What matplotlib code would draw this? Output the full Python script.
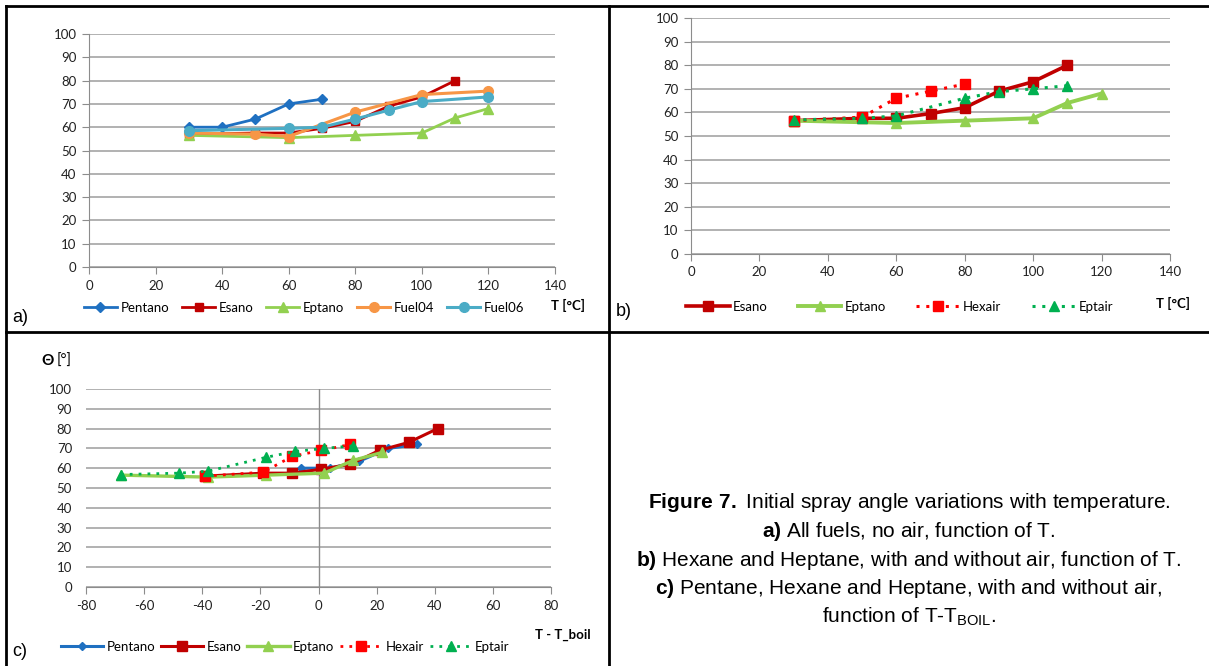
import numpy as np
import matplotlib
matplotlib.use("Agg")
from matplotlib import pyplot as plt
from matplotlib.lines import Line2D

plt.rcParams['font.family'] = ['Lato', 'DejaVu Sans']
plt.rcParams['axes.unicode_minus'] = False
plt.rcParams['mathtext.fontset'] = 'custom'
plt.rcParams['mathtext.rm'] = 'Liberation Sans'
plt.rcParams['mathtext.bf'] = 'Liberation Sans:bold'

# ---- data ----
# a) all fuels, no air, function of T
a_T_pentano = [30, 40, 50, 60, 70]
a_pentano = [60, 60, 63.5, 70, 72]
a_T_esano = [30, 50, 60, 70, 80, 90, 100, 110]
a_esano = [57, 57.5, 57.5, 59.5, 62.5, 69, 73, 80]
a_T_eptano = [30, 60, 80, 100, 110, 120]
a_eptano = [56.5, 55.5, 56.5, 57.5, 64, 68]
a_T_fuel04 = [30, 50, 60, 80, 100, 120]
a_fuel04 = [57.5, 57, 56, 66.5, 74, 75.5]
a_T_fuel06 = [30, 60, 70, 80, 90, 100, 120]
a_fuel06 = [58.5, 59.5, 60, 63.5, 67.3, 71, 73]

# b) hexane and heptane, with and without air
b_T_esano = [30, 50, 60, 70, 80, 90, 100, 110]
b_esano = [56.5, 57.5, 57.5, 59.5, 62, 69, 73, 80]
b_T_eptano = [30, 60, 80, 100, 110, 120]
b_eptano = [56.5, 55.5, 56.5, 57.5, 64, 68]
b_T_hexair = [30, 50, 60, 70, 80]
b_hexair = [56.5, 58, 66, 69, 72]
b_T_eptair = [30, 50, 60, 80, 90, 100, 110]
b_eptair = [56.8, 57.5, 58.5, 66, 68.8, 70, 71.3]

# c) function of T - T_boil
c_dT_pentano = [-6, 4, 14, 24, 34]
c_pentano = [60, 60, 63.5, 70, 72]
c_dT_esano = [-39, -19, -9, 1, 11, 21, 31, 41]
c_esano = [56, 57.5, 57.5, 59.5, 62, 69, 73, 80]
c_dT_eptano = [-68, -38, -18, 2, 12, 22]
c_eptano = [56.5, 55.5, 56.5, 57.5, 64, 68]
c_dT_hexair = [-39, -19, -9, 1, 11]
c_hexair = [56, 58, 66, 69, 72]
c_dT_eptair = [-68, -48, -38, -18, -8, 2, 12]
c_eptair = [56.8, 57.5, 58.5, 65.5, 68.5, 70, 71.3]

xticks_T = np.arange(0, 141, 20)
xticks_dT = np.arange(-80, 81, 20)
yticks = np.arange(0, 101, 10)

caption = [
    r"$\mathbf{Figure\ 7.}$ Initial spray angle variations with temperature.",
    r"$\mathbf{a)}$ All fuels, no air, function of T.",
    r"$\mathbf{b)}$ Hexane and Heptane, with and without air, function of T.",
    r"$\mathbf{c)}$ Pentane, Hexane and Heptane, with and without air,",
    r"function of T-T$_{\mathregular{BOIL}}$.",
]

# colours (Excel palette)
BLUE = '#1F70C1'
DRED = '#C00000'
LGREEN = '#92D050'
ORANGE = '#F79646'
CYAN = '#4BACC6'
RED = '#FF0000'
GREEN = '#00B050'
GRID = '#ABABAB'

W, H = 1209, 666
fig = plt.figure(figsize=(W / 100, H / 100), dpi=100)


def box(l, t, r, b):
    return [l / W, 1 - b / H, (r - l) / W, (b - t) / H]


def px(x, y):
    return (x / W, 1 - y / H)


def style_axes(ax, xlim, xticks, yaxis_at_zero=False):
    ax.set_xlim(*xlim)
    ax.set_ylim(0, 100)
    ax.set_xticks(xticks)
    ax.set_yticks(yticks)
    ax.grid(axis='y', color=GRID, linewidth=1.3, zorder=0)
    ax.set_axisbelow(True)
    for s in ['top', 'right']:
        ax.spines[s].set_visible(False)
    ax.spines['bottom'].set_color('#8C8C8C')
    ax.spines['left'].set_color('#8C8C8C')
    ax.tick_params(axis='x', direction='out', length=5, color='#8C8C8C',
                   labelsize=9.5, pad=4, labelcolor='#222222')
    if yaxis_at_zero:
        ax.spines['left'].set_visible(False)
        ax.axvline(0, color='#8C8C8C', linewidth=1.0, zorder=1)
        ax.tick_params(axis='y', length=0, labelsize=9.5, pad=10,
                       labelcolor='#222222')
    else:
        ax.tick_params(axis='y', direction='out', length=5, color='#8C8C8C',
                       labelsize=9.5, pad=4, labelcolor='#222222')


def legend_at(ax, x0, yc, hlen, colsp, ncol):
    ax.legend(loc='center left', bbox_to_anchor=px(x0, yc),
              bbox_transform=fig.transFigure, ncol=ncol, frameon=False,
              borderaxespad=0, borderpad=0, handlelength=hlen,
              handletextpad=0.25, columnspacing=colsp, numpoints=1,
              fontsize=9.5)


# ---------- panel a ----------
ax_a = fig.add_axes(box(89, 34, 555, 267))
ax_a.plot(a_T_pentano, a_pentano, '-D', color=BLUE, lw=2.0, ms=5, label='Pentano')
ax_a.plot(a_T_esano, a_esano, '-s', color=DRED, lw=2.0, ms=6, label='Esano')
ax_a.plot(a_T_eptano, a_eptano, '-^', color=LGREEN, lw=2.0, ms=6.5, label='Eptano')
ax_a.plot(a_T_fuel04, a_fuel04, '-o', color=ORANGE, lw=2.2, ms=7, label='Fuel04')
ax_a.plot(a_T_fuel06, a_fuel06, '-o', color=CYAN, lw=2.2, ms=7, label='Fuel06')
style_axes(ax_a, (0, 140), xticks_T)
legend_at(ax_a, 84, 308, 2.5, 1.0, 5)
fig.text(*px(568, 305), 'T [°C]', fontsize=9.5, fontweight='bold',
         ha='center', va='center')
fig.text(*px(12, 318), 'a)', fontsize=13, family='Liberation Sans',
         ha='left', va='center')

# ---------- panel b ----------
ax_b = fig.add_axes(box(691, 18, 1170, 254))
ax_b.plot(b_T_esano, b_esano, '-s', color=DRED, lw=2.6, ms=7.5, label='Esano')
ax_b.plot(b_T_eptano, b_eptano, '-^', color=LGREEN, lw=2.8, ms=7, label='Eptano')
ax_b.plot(b_T_hexair, b_hexair, 's', color=RED, ls=(0, (1, 2.2)), lw=2.2, ms=7.5,
          label='Hexair')
ax_b.plot(b_T_eptair, b_eptair, '^', color=GREEN, ls=(0, (1, 2.2)), lw=2.2, ms=7.5,
          label='Eptair')
style_axes(ax_b, (0, 140), xticks_T)
legend_at(ax_b, 686, 307, 3.3, 2.3, 4)
fig.text(*px(1173, 303), 'T [°C]', fontsize=9.5, fontweight='bold',
         ha='center', va='center')
fig.text(*px(616, 312), 'b)', fontsize=13, family='Liberation Sans',
         ha='left', va='center')

# ---------- panel c ----------
ax_c = fig.add_axes(box(86, 389, 551, 587))
ax_c.plot(c_dT_pentano, c_pentano, '-D', color=BLUE, lw=2.2, ms=4.5, label='Pentano')
ax_c.plot(c_dT_esano, c_esano, '-s', color=DRED, lw=2.2, ms=6.5, label='Esano')
ax_c.plot(c_dT_eptano, c_eptano, '-^', color=LGREEN, lw=2.4, ms=6.5, label='Eptano')
ax_c.plot(c_dT_hexair, c_hexair, 's', color=RED, ls=(0, (1, 2.2)), lw=2.0, ms=6.5,
          label='Hexair')
ax_c.plot(c_dT_eptair, c_eptair, '^', color=GREEN, ls=(0, (1, 2.2)), lw=2.0, ms=6.5,
          label='Eptair')
style_axes(ax_c, (-80, 80), xticks_dT, yaxis_at_zero=True)
legend_at(ax_c, 61, 647, 3.2, 0.45, 5)
fig.text(*px(563, 635), 'T - T_boil', fontsize=9.5, fontweight='bold',
         ha='center', va='center')
fig.text(*px(41, 361), 'Θ', fontsize=11, fontweight='bold', ha='left', va='center')
fig.text(*px(57, 361), '[°]', fontsize=10.5, ha='left', va='center')
fig.text(*px(12, 652), 'c)', fontsize=13, family='Liberation Sans',
         ha='left', va='center')

# ---------- caption ----------
for i, line in enumerate(caption):
    fig.text(*px(909, 503 + i * 28.5), line, fontsize=15, family='Liberation Sans',
             ha='center', va='center')

# ---------- table borders ----------
lw_border = 2.0
for (x0, y0, x1, y1) in [(6, 6, W, 6), (6, 6, 6, H), (609, 6, 609, H), (6, 332, W, 332)]:
    fig.add_artist(Line2D([x0 / W, x1 / W], [1 - y0 / H, 1 - y1 / H],
                          transform=fig.transFigure, color='black', lw=lw_border))

fig.savefig('out.png', dpi=100, facecolor='white')
